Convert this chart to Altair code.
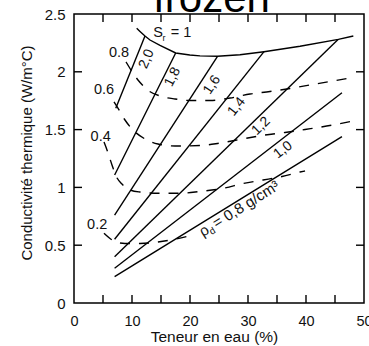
import altair as alt
import pandas as pd

FONT = "Liberation Sans"
INK = "#111111"

# ---- dry density lines (rho_d, g/cm3) ----
rho_names = ["0.8", "1.0", "1.2", "1.4", "1.6", "1.8", "2.0"]
rho_w_start = [7.0, 7.0, 7.0, 7.0, 7.0, 7.0, 7.2]
rho_k_start = [0.228, 0.30, 0.40, 0.551, 0.761, 1.107, 1.684]
rho_w_end = [46.2, 46.2, 45.57, 32.76, 24.74, 17.53, 12.24]
rho_k_end = [1.439, 1.819, 2.281, 2.174, 2.134, 2.163, 2.31]

# ---- saturation Sr = 1 curve ----
sr1_w = [10.81, 11.38, 12.24, 13.10, 14.83, 17.53, 19.97, 21.72, 24.74, 28.62, 32.76, 38.97, 45.57, 48.16]
sr1_k = [2.376, 2.349, 2.310, 2.275, 2.228, 2.163, 2.145, 2.138, 2.134, 2.147, 2.174, 2.221, 2.281, 2.310]

# ---- dashed saturation curves ----
sr08_w = [8.97, 11.03, 12.93, 14.83, 17.41, 20.0, 23.45, 26.9, 30.34, 33.79, 37.24, 40.69, 44.14, 48.1]
sr08_k = [2.085, 1.929, 1.834, 1.791, 1.765, 1.752, 1.752, 1.773, 1.808, 1.830, 1.856, 1.886, 1.916, 1.951]

sr06_w = [6.9, 7.76, 8.79, 10.17, 12.24, 14.48, 17.41, 21.72, 25.17, 29.48, 32.93, 36.38, 39.83, 44.66, 48.1]
sr06_k = [1.739, 1.67, 1.583, 1.497, 1.419, 1.375, 1.358, 1.362, 1.384, 1.423, 1.453, 1.475, 1.501, 1.54, 1.574]

sr04_w = [5.17, 5.69, 6.55, 7.24, 8.28, 9.66, 11.38, 14.83, 18.28, 21.72, 26.03, 29.14, 32.59, 35.86, 38.97, 39.83]
sr04_k = [1.393, 1.324, 1.194, 1.099, 1.029, 0.978, 0.960, 0.949, 0.949, 0.965, 0.995, 1.034, 1.064, 1.094, 1.133, 1.142]

sr02_w = [5.17, 6.21, 7.24, 8.79, 11.38, 14.48, 17.59, 20.52]
sr02_k = [0.603, 0.558, 0.528, 0.515, 0.515, 0.528, 0.554, 0.588]

# ---- labels ----
sr_lab_text = ["0.8", "0.6", "0.4", "0.2"]
sr_lab_w = [7.76, 5.17, 4.6, 4.0]
sr_lab_k = [2.163, 1.843, 1.439, 0.675]

rho_lab_text = ["2,0", "1,8", "1,6", "1,4", "1,2", "1,0"]
rho_lab_w = [12.5, 16.98, 23.79, 28.05, 32.24, 36.03]
rho_lab_k = [2.111, 1.955, 1.886, 1.698, 1.531, 1.324]
rho_lab_angle = [293, 297, 303, 308, 316, 322]

x_ticks = [0, 5, 10, 15, 20, 25, 30, 35, 40, 45, 50]
y_ticks = [0, 0.5, 1.0, 1.5, 2.0, 2.5]
x_inner = [5, 10, 15, 20, 25, 30, 35, 40, 45]
y_inner = [0.5, 1.0, 1.5, 2.0]

# ---- tables ----
rows = []
for i, n in enumerate(rho_names):
    rows.append({"s": "rho" + n, "o": 0, "w": rho_w_start[i], "k": rho_k_start[i]})
    rows.append({"s": "rho" + n, "o": 1, "w": rho_w_end[i], "k": rho_k_end[i]})
for j, (w, k) in enumerate(zip(sr1_w, sr1_k)):
    rows.append({"s": "sr1", "o": j, "w": w, "k": k})
solid = pd.DataFrame(rows)

drows = []
for name, ws, ks in [("0.8", sr08_w, sr08_k), ("0.6", sr06_w, sr06_k),
                     ("0.4", sr04_w, sr04_k), ("0.2", sr02_w, sr02_k)]:
    for j, (w, k) in enumerate(zip(ws, ks)):
        drows.append({"s": name, "o": j, "w": w, "k": k})
dashed = pd.DataFrame(drows)

xs = alt.Scale(domain=[0, 50], nice=False)
ys = alt.Scale(domain=[0, 2.5], nice=False)

X = alt.X("w:Q", scale=xs, axis=alt.Axis(
    title="Teneur en eau (%)", values=x_ticks, format="d", ticks=False, domain=False,
    grid=False, labelFontSize=14.5, titleFontSize=15.5, labelFont=FONT, titleFont=FONT,
    labelColor=INK, titleColor=INK, titleFontWeight="normal", labelPadding=11, titlePadding=2,
    labelFlush=False, titleX=140))
Y = alt.Y("k:Q", scale=ys, axis=alt.Axis(
    title="Conductivité thermique (W/m°C)", values=y_ticks, format="~g", ticks=False,
    domain=False, grid=False, labelFontSize=15, titleFontSize=15, labelFont=FONT,
    titleFont=FONT, labelColor=INK, titleColor=INK, titleFontWeight="normal",
    labelPadding=9, titlePadding=10, labelFlush=False, titleY=138.5))

solid_layer = alt.Chart(solid).mark_line(color="black", strokeWidth=1.4).encode(
    x=X, y=Y, detail="s:N", order="o:Q")

dashed_layer = alt.Chart(dashed).mark_line(
    color="black", strokeWidth=1.4, strokeDash=[10, 9], interpolate="monotone").encode(
    x="w:Q", y="k:Q", detail="s:N", order="o:Q")

sr_lab = alt.Chart(pd.DataFrame({"t": sr_lab_text, "w": sr_lab_w, "k": sr_lab_k})).mark_text(
    font=FONT, fontSize=14.5, color=INK).encode(x="w:Q", y="k:Q", text="t:N")

rho_lab = alt.Chart(pd.DataFrame({"t": rho_lab_text, "w": rho_lab_w, "k": rho_lab_k,
                                  "a": rho_lab_angle})).mark_text(
    font=FONT, fontSize=14, color=INK).encode(
    x="w:Q", y="k:Q", text="t:N", angle=alt.Angle("a:Q", scale=None))

s_df = pd.DataFrame({"w": [14.48], "k": [2.336]})
s_main = alt.Chart(s_df).mark_text(font=FONT, fontSize=14.5, color=INK, text="S").encode(x="w:Q", y="k:Q")
s_sub = alt.Chart(s_df).mark_text(font=FONT, fontSize=9, color=INK, text="r", dx=6, dy=5).encode(x="w:Q", y="k:Q")
s_eq = alt.Chart(s_df).mark_text(font=FONT, fontSize=14.5, color=INK, text="= 1", dx=23).encode(x="w:Q", y="k:Q")

rd_df = pd.DataFrame({"w": [22.24], "k": [0.571]})
rd_kw = dict(font=FONT, color=INK, angle=328, align="left", baseline="alphabetic")
rd_rho = alt.Chart(rd_df).mark_text(fontSize=15, text="ρ", **rd_kw).encode(x="w:Q", y="k:Q")
rd_d = alt.Chart(rd_df).mark_text(fontSize=9.5, text="d", dx=8.5, dy=3, **rd_kw).encode(x="w:Q", y="k:Q")
rd_eq = alt.Chart(rd_df).mark_text(fontSize=15, text="= 0,8 g/cm³", dx=16, **rd_kw).encode(x="w:Q", y="k:Q")

# inner ticks on all four sides
xt = pd.DataFrame({"w": x_inner})
yt = pd.DataFrame({"k": y_inner})
tick_kw = dict(color="black", strokeWidth=1.4)
t_bottom = alt.Chart(xt).mark_rule(**tick_kw).encode(x="w:Q", y=alt.value(289), y2=alt.value(281))
t_top = alt.Chart(xt).mark_rule(**tick_kw).encode(x="w:Q", y=alt.value(0), y2=alt.value(8))
t_left = alt.Chart(yt).mark_rule(**tick_kw).encode(y="k:Q", x=alt.value(0), x2=alt.value(8))
t_right = alt.Chart(yt).mark_rule(**tick_kw).encode(y="k:Q", x=alt.value(290), x2=alt.value(282))

title = alt.Chart(pd.DataFrame({"t": ["frozen"]})).mark_text(
    font=FONT, fontSize=42, color="black", align="center", baseline="alphabetic").encode(
    text="t:N", x=alt.value(137.5), y=alt.value(-2))

chart = alt.layer(
    solid_layer, dashed_layer, t_bottom, t_top, t_left, t_right,
    sr_lab, rho_lab, s_main, s_sub, s_eq, rd_rho, rd_d, rd_eq, title
).properties(
    width=290, height=289,
    padding={"left": 74, "top": 14, "right": 5, "bottom": 43},
    autosize=alt.AutoSizeParams(type="none"),
    background="white",
).configure_view(stroke="black", strokeWidth=1.5)

chart.save("out.html", embed_options={"renderer": "svg", "actions": False})
